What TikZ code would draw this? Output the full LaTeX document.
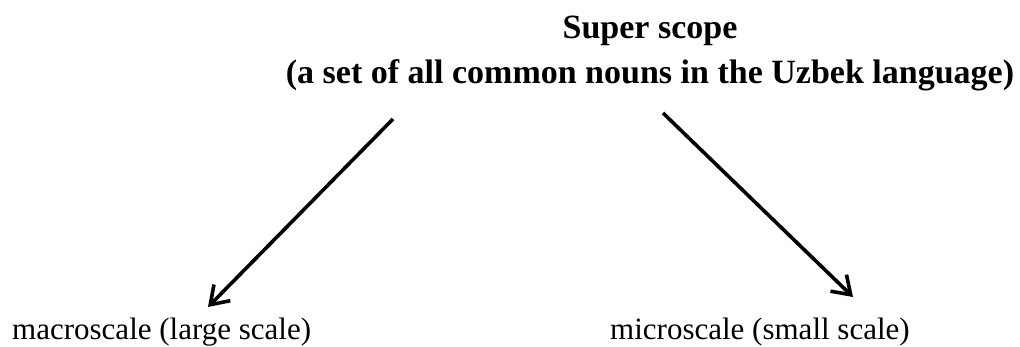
\documentclass[tikz,border=0pt]{standalone}
\usepackage{fontspec}
\setmainfont{Liberation Serif}
\usetikzlibrary{arrows.meta}
\begin{document}
\begin{tikzpicture}[x=1pt,y=1pt,
  title/.style={font=\fontsize{34}{45}\selectfont\bfseries, align=center, inner sep=0pt},
  label/.style={font=\fontsize{31}{35}\selectfont, anchor=base west, inner sep=0pt},
  arr/.style={line width=3.6pt, -{Straight Barb[length=17pt,width=23pt,line width=3.6pt]}}]
\useasboundingbox (0,0) rectangle (1020,-347);
\node[title, anchor=base] (sup) at (650,-39) {Super scope};
\node[title, anchor=base] (set) at (650,-84) {(a set of all common nouns in the Uzbek language)};
\node[label] (macro) at (12,-340) {macroscale (large scale)};
\node[label] (micro) at (610,-340) {microscale (small scale)};
\coordinate (ls) at (393,-119);
\coordinate (le) at (208,-307);
\coordinate (rs) at (663,-113);
\coordinate (re) at (853,-297);
\draw[arr] (ls) -- (le);
\draw[arr] (rs) -- (re);
\end{tikzpicture}
\end{document}
